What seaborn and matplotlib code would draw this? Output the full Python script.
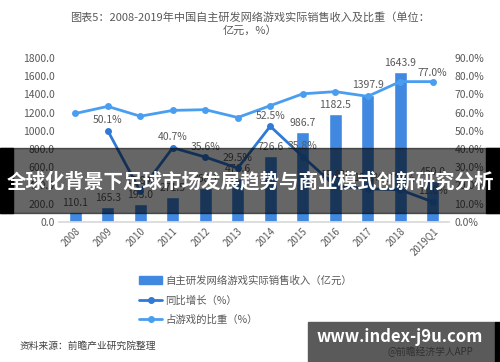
import numpy as np
import pandas as pd
import matplotlib
matplotlib.use('Agg')
import matplotlib.pyplot as plt
import seaborn as sns
from matplotlib.patches import Patch, Rectangle
from matplotlib.lines import Line2D

# Data
years = ['2008', '2009', '2010', '2011', '2012', '2013', '2014', '2015',
         '2016', '2017', '2018', '2019Q1']
revenue = [110.1, 165.3, 193.0, 271.5, 368.1, 476.6, 726.6, 986.7,
           1182.5, 1397.9, 1643.9, 450.0]
growth = [np.nan, 50.1, 16.8, 40.7, 35.6, 29.5, 52.5, 35.8,
          19.8, 18.2, 17.6, 11.0]
share = [59.5, 63.4, 58.0, 61.2, 61.6, 57.3, 63.8, 70.3,
         71.5, 68.9, 77.0, 77.0]

left_ticks = [0, 200, 400, 600, 800, 1000, 1200, 1400, 1600, 1800]
right_ticks = [0, 10, 20, 30, 40, 50, 60, 70, 80, 90]

bar_color = '#4088e0'
growth_color = '#2f7ad6'
share_color = '#4a9ef0'
text_gray = '#595959'

sns.set_theme(style='white')
plt.rcParams['font.family'] = ['Noto Sans CJK SC', 'DejaVu Sans']

df = pd.DataFrame({'year': years, 'revenue': revenue,
                   'growth': growth, 'share': share})
df['pos'] = np.arange(len(years))

fig = plt.figure(figsize=(5, 3.62), dpi=100)
ax = fig.add_axes([0.118, 0.387, 0.78, 0.453])

sns.barplot(data=df, x='year', y='revenue', color=bar_color,
            width=0.4, saturation=1, ax=ax)
ax.set_xlim(-0.5, len(years) - 0.5)
ax.set_ylim(0, 1800)
ax.set_yticks(left_ticks)
ax.set_yticklabels([f'{v:.1f}' for v in left_ticks], color=text_gray, fontsize=7.5)
ax.set_xlabel('')
ax.set_ylabel('')
ax.set_xticks(df['pos'])
ax.set_xticklabels(years, rotation=45, ha='right', rotation_mode='anchor',
                   color=text_gray, fontsize=7)
ax.tick_params(axis='both', length=0, pad=3)
for s in ['top', 'left', 'right']:
    ax.spines[s].set_visible(False)
ax.spines['bottom'].set_color('#d9d9d9')

for x, v in zip(df['pos'], revenue):
    ax.text(x, v + 45, f'{v:.1f}', ha='center', va='bottom',
            fontsize=7.5, color=text_gray)

ax2 = ax.twinx()
sns.lineplot(data=df, x='pos', y='share', color=share_color, marker='o',
             markersize=5, markeredgewidth=0, linewidth=2, ax=ax2)
sns.lineplot(data=df.dropna(), x='pos', y='growth', color=growth_color, marker='o',
             markersize=5, markeredgewidth=0, linewidth=2, ax=ax2)
ax2.set_ylim(0, 90)
ax2.set_yticks(right_ticks)
ax2.set_yticklabels([f'{v:.1f}%' for v in right_ticks], color=text_gray, fontsize=7.5)
ax2.set_xlim(-0.5, len(years) - 0.5)
ax2.set_xlabel('')
ax2.set_ylabel('')
ax2.tick_params(axis='both', length=0, pad=4)
for s in ['top', 'left', 'right', 'bottom']:
    ax2.spines[s].set_visible(False)

for x, g in zip(df['pos'], growth):
    if not np.isnan(g):
        ax2.text(x, g + 3, f'{g:.1f}%', ha='center', va='bottom',
                 fontsize=7.5, color=text_gray)
ax2.text(df['pos'].iloc[-1], share[-1] + 2, f'{share[-1]:.1f}%',
         ha='center', va='bottom', fontsize=7.5, color=text_gray)

fig.text(0.5, 0.953, '图表5：2008-2019年中国自主研发网络游戏实际销售收入及比重（单位：',
         ha='center', va='center', fontsize=8, color=text_gray)
fig.text(0.5, 0.915, '亿元，%）', ha='center', va='center', fontsize=8, color=text_gray)

handles = [Patch(color=bar_color),
           Line2D([0], [0], color=growth_color, lw=2, marker='o', markersize=4),
           Line2D([0], [0], color=share_color, lw=2, marker='o', markersize=4)]
labels = ['自主研发网络游戏实际销售收入（亿元）', '同比增长（%）', '占游戏的比重（%）']
fig.legend(handles, labels, loc='upper left', bbox_to_anchor=(0.26, 0.265),
           frameon=False, fontsize=7.5, labelcolor=text_gray,
           handlelength=2.2, handletextpad=0.3, labelspacing=0.9)

fig.text(0.04, 0.045, '资料来源：前瞻产业研究院整理', ha='left', va='center',
         fontsize=7, color='#404040', style='italic')

# overlay banner
fig.patches.append(Rectangle((0, 1 - 213 / 362), 1, 65 / 362, transform=fig.transFigure,
                             color='black', alpha=0.6, zorder=5))
fig.patches.append(Rectangle((0, 1 - 213 / 362), 0.026, 65 / 362, transform=fig.transFigure,
                             color='black', zorder=5))
fig.patches.append(Rectangle((0.972, 1 - 213 / 362), 0.028, 65 / 362, transform=fig.transFigure,
                             color='black', zorder=5))
fig.text(0.5, 1 - 181 / 362, '全球化背景下足球市场发展趋势与商业模式创新研究分析',
         ha='center', va='center', fontsize=14, color='white',
         fontweight='bold', zorder=6)

# bottom-right box
fig.patches.append(Rectangle((0.616, 0), 0.374, 40 / 362, transform=fig.transFigure,
                             color='#5a5a5a', zorder=5))
fig.patches.append(Rectangle((0.99, 0), 0.01, 40 / 362, transform=fig.transFigure,
                             color='black', zorder=5))
fig.text(0.80, 0.068, 'www.index-j9u.com', ha='center', va='center',
         fontsize=12, color='white', fontweight='bold', zorder=6)
fig.text(0.86, 0.028, '@前瞻经济学人APP', ha='center', va='center',
         fontsize=7, color='#303030', zorder=6)

fig.savefig('out.png', dpi=100)
